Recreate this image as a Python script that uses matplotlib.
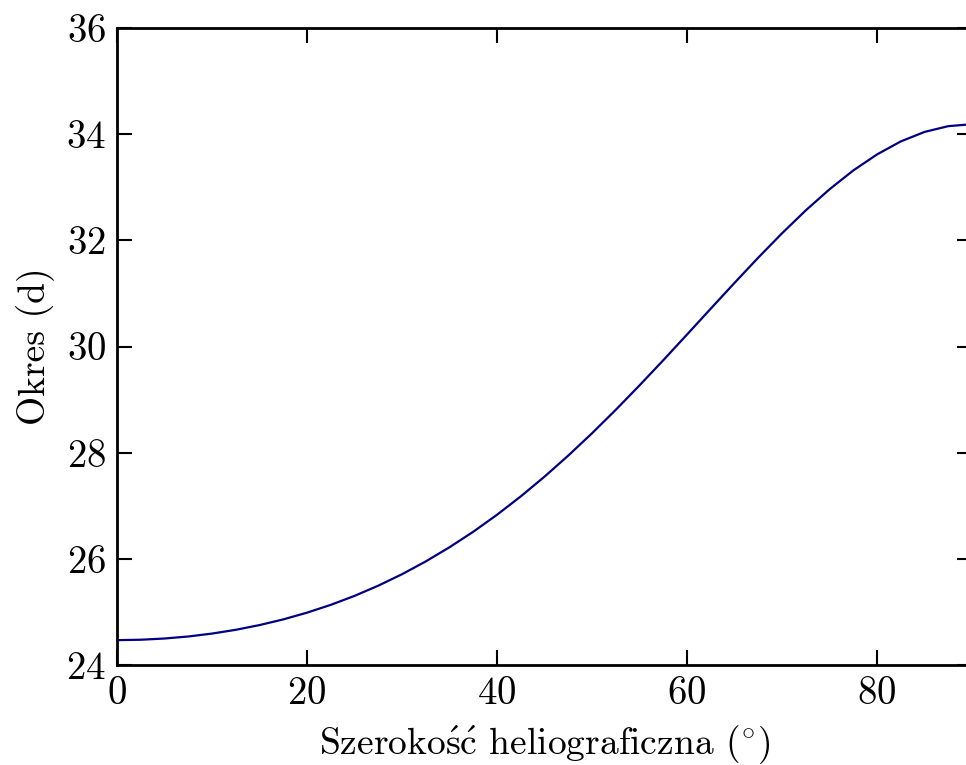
import matplotlib
matplotlib.use("Agg")
import matplotlib.pyplot as plt

plt.rcParams['font.family'] = ['cmr10', 'DejaVu Serif']
plt.rcParams['mathtext.fontset'] = 'cm'
plt.rcParams['axes.formatter.use_mathtext'] = True

latitude = [0, 2.5, 5, 7.5, 10, 12.5, 15, 17.5, 20, 22.5, 25, 27.5, 30, 32.5, 35, 37.5,
            40, 42.5, 45, 47.5, 50, 52.5, 55, 57.5, 60, 62.5, 65, 67.5, 70, 72.5, 75,
            77.5, 80, 82.5, 85, 87.5, 90]
period = [24.468, 24.476, 24.499, 24.537, 24.592, 24.663, 24.752, 24.859, 24.986,
          25.133, 25.302, 25.494, 25.710, 25.951, 26.218, 26.510, 26.830, 27.176,
          27.548, 27.945, 28.365, 28.807, 29.267, 29.741, 30.225, 30.713, 31.198,
          31.674, 32.132, 32.564, 32.961, 33.316, 33.618, 33.863, 34.042, 34.151, 34.188]
xticks = [0, 20, 40, 60, 80]
yticks = [24, 26, 28, 30, 32, 34, 36]

fig = plt.figure(figsize=(9.66, 7.65), dpi=100)
ax = fig.add_axes([117/966, 100/765, 855/966, 637/765])
ax.plot(latitude, period, color='#000080', lw=1.6)
ax.set_xlim(0, 90)
ax.set_ylim(24, 36)
ax.set_xticks(xticks)
ax.set_yticks(yticks)
ax.tick_params(direction='in', top=True, right=True, length=11, width=1.5,
               labelsize=28, pad=8)
for s in ax.spines.values():
    s.set_linewidth(2.0)
ax.set_xlabel(r'Szeroko$\mathrm{\acute{s}\acute{c}}$ heliograficzna (${}^{\circ}$)', fontsize=27, labelpad=8)
ax.set_ylabel('Okres (d)', fontsize=27, labelpad=8)
fig.savefig('out.png', dpi=100)
